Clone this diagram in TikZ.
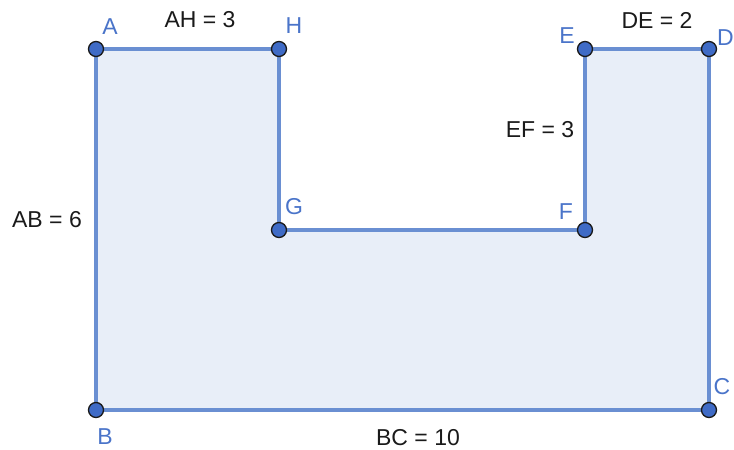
\documentclass[tikz,border=0pt]{standalone}
\usepackage{fontspec}
\setmainfont{Liberation Sans}
\definecolor{edgeblue}{HTML}{6A8FD2}
\definecolor{fillblue}{HTML}{E8EEF8}
\definecolor{ptblue}{HTML}{3F6BC6}
\definecolor{lblblue}{HTML}{4A74C9}
\definecolor{txt}{HTML}{1A1A1A}
\begin{document}
\begin{tikzpicture}[x=1pt,y=-1pt,
  pt/.style={circle,draw=txt,fill=ptblue,line width=1.3pt,minimum size=15pt,inner sep=0pt},
  plbl/.style={text=lblblue,font=\fontsize{23}{25}\selectfont,inner sep=0pt},
  mlbl/.style={text=txt,font=\fontsize{23}{25}\selectfont,inner sep=0pt}]
\useasboundingbox (0,0) rectangle (734,450);
\coordinate (a) at (96,49);
\coordinate (h) at (279,49);
\coordinate (g) at (279,230);
\coordinate (f) at (585,230);
\coordinate (e) at (585,49);
\coordinate (d) at (709,49);
\coordinate (c) at (709,410);
\coordinate (b) at (96,410);
\draw[edgeblue,fill=fillblue,line width=3.2pt,line join=miter] (a) -- (h) -- (g) -- (f) -- (e) -- (d) -- (c) -- (b) -- cycle;
\foreach \p in {a,h,g,f,e,d,c,b} \node[pt] (P\p) at (\p) {};
\node[plbl] (la) at (110,27) {A};
\node[plbl] (lh) at (294,26) {H};
\node[plbl] (le) at (567,36) {E};
\node[plbl,anchor=east] (ld) at (734,38) {D};
\node[plbl] (lc) at (722,387) {C};
\node[plbl] (lb) at (105,437) {B};
\node[plbl] (lg) at (294,207) {G};
\node[plbl] (lf) at (566,212) {F};
\node[mlbl] (mah) at (200,20) {AH = 3};
\node[mlbl] (mde) at (657,20) {DE = 2};
\node[mlbl] (mab) at (47,220) {AB = 6};
\node[mlbl] (mef) at (540,130) {EF = 3};
\node[mlbl] (mbc) at (418,438) {BC = 10};
\end{tikzpicture}
\end{document}
